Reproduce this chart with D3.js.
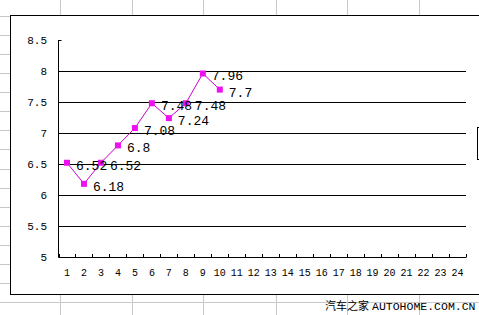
<!DOCTYPE html>
<html>
<head>
<meta charset="utf-8">
<script src="https://cdn.jsdelivr.net/npm/d3@7"></script>
<style>
  body { margin: 0; background: #fff; }
  svg { display: block; }
</style>
</head>
<body>
<script>
// chart data
const categories = [1, 2, 3, 4, 5, 6, 7, 8, 9, 10, 11, 12, 13, 14, 15, 16, 17, 18, 19, 20, 21, 22, 23, 24];
const values = [6.52, 6.18, 6.52, 6.8, 7.08, 7.48, 7.24, 7.48, 7.96, 7.7];
const yTicks = [5, 5.5, 6, 6.5, 7, 7.5, 8, 8.5];
const footer = "汽车之家 AUTOHOME.COM.CN";

const width = 479, height = 315;
const mono = "'Liberation Mono', 'DejaVu Sans Mono', monospace";

const svg = d3.select("body").append("svg")
  .attr("width", width)
  .attr("height", height);

// spreadsheet cell lines behind the chart
const cellRows = d3.range(16, 315, 19.07);
const cellCols = [60, 131.5, 203, 275.5, 347, 419];
svg.append("g")
  .attr("stroke", "#c8c8c8")
  .attr("stroke-width", 1)
  .call(g => g.selectAll("line.r").data(cellRows).join("line")
    .attr("x1", 0).attr("x2", width)
    .attr("y1", d => Math.round(d) + 0.5).attr("y2", d => Math.round(d) + 0.5))
  .call(g => g.selectAll("line.c").data(cellCols).join("line")
    .attr("y1", 0).attr("y2", height)
    .attr("x1", d => Math.round(d) + 0.5).attr("x2", d => Math.round(d) + 0.5));

// chart frame
svg.append("rect")
  .attr("x", 10.5).attr("y", 15.5)
  .attr("width", 500).attr("height", 279)
  .attr("fill", "#fff")
  .attr("stroke", "#000");

// legend box, mostly cut off on the right
svg.append("rect")
  .attr("x", 477.5).attr("y", 127.5)
  .attr("width", 40).attr("height", 32)
  .attr("fill", "#fff")
  .attr("stroke", "#000");

const x = d3.scaleBand()
  .domain(categories)
  .range([58.5, 466]);

const y = d3.scaleLinear()
  .domain([5, 8.5])
  .range([257, 40]);

// horizontal gridlines
svg.append("g")
  .selectAll("line")
  .data(yTicks.filter(d => d > 5 && d < 8.5))
  .join("line")
  .attr("x1", 58.5).attr("x2", 466)
  .attr("y1", d => Math.round(y(d)) + 0.5)
  .attr("y2", d => Math.round(y(d)) + 0.5)
  .attr("stroke", "#000");

// y axis
const yAxis = svg.append("g")
  .attr("transform", "translate(58.5,0)")
  .call(d3.axisRight(y).tickValues(yTicks).tickSize(3).tickFormat(""));
yAxis.select(".domain").attr("d", `M0,${y(8.5)}V${y(5)}`);
yAxis.selectAll(".tick").attr("transform", d => `translate(0,${Math.round(y(d)) + 0.5})`);

svg.append("g")
  .selectAll("text")
  .data(yTicks)
  .join("text")
  .attr("x", 47)
  .attr("y", d => y(d))
  .attr("dy", "0.35em")
  .attr("text-anchor", "end")
  .attr("font-family", mono)
  .attr("font-size", 11)
  .text(d => d);

// x axis, ticks between categories pointing up
const xEdges = categories.map(c => x(c)).concat([x.range()[1]]);
svg.append("line")
  .attr("x1", 58.5).attr("x2", 466)
  .attr("y1", 257.5).attr("y2", 257.5)
  .attr("stroke", "#000");
svg.append("g")
  .selectAll("line")
  .data(xEdges)
  .join("line")
  .attr("x1", d => Math.round(d) + 0.5).attr("x2", d => Math.round(d) + 0.5)
  .attr("y1", 254).attr("y2", 257.5)
  .attr("stroke", "#000");

svg.append("g")
  .selectAll("text")
  .data(categories)
  .join("text")
  .attr("x", d => x(d) + x.bandwidth() / 2)
  .attr("y", 272)
  .attr("dy", "0.35em")
  .attr("text-anchor", "middle")
  .attr("font-family", mono)
  .attr("font-size", 10)
  .text(d => d);

// series
const pts = values.map((v, i) => ({ cat: categories[i], v }));
const line = d3.line()
  .x(d => x(d.cat) + x.bandwidth() / 2)
  .y(d => y(d.v));

svg.append("path")
  .datum(pts)
  .attr("d", line)
  .attr("fill", "none")
  .attr("stroke", "#cc00cc")
  .attr("stroke-width", 1);

svg.append("g")
  .selectAll("rect")
  .data(pts)
  .join("rect")
  .attr("x", d => x(d.cat) + x.bandwidth() / 2 - 3)
  .attr("y", d => y(d.v) - 3)
  .attr("width", 6).attr("height", 6)
  .attr("fill", "#ee10ee");

svg.append("g")
  .selectAll("text")
  .data(pts)
  .join("text")
  .attr("x", d => x(d.cat) + x.bandwidth() / 2 + 9)
  .attr("y", d => y(d.v) + 7)
  .attr("font-family", mono)
  .attr("font-size", 13)
  .attr("fill", "#000")
  .text(d => d.v);

// watermark
svg.append("text")
  .attr("x", 325)
  .attr("y", 310)
  .attr("font-family", "'Noto Sans CJK SC', sans-serif")
  .attr("font-size", 11)
  .attr("fill", "#000")
  .text(footer.split(" ")[0]);
svg.append("text")
  .attr("x", 372)
  .attr("y", 310)
  .attr("font-family", mono)
  .attr("font-size", 11.5)
  .attr("fill", "#000")
  .text(footer.split(" ")[1]);
</script>
</body>
</html>
